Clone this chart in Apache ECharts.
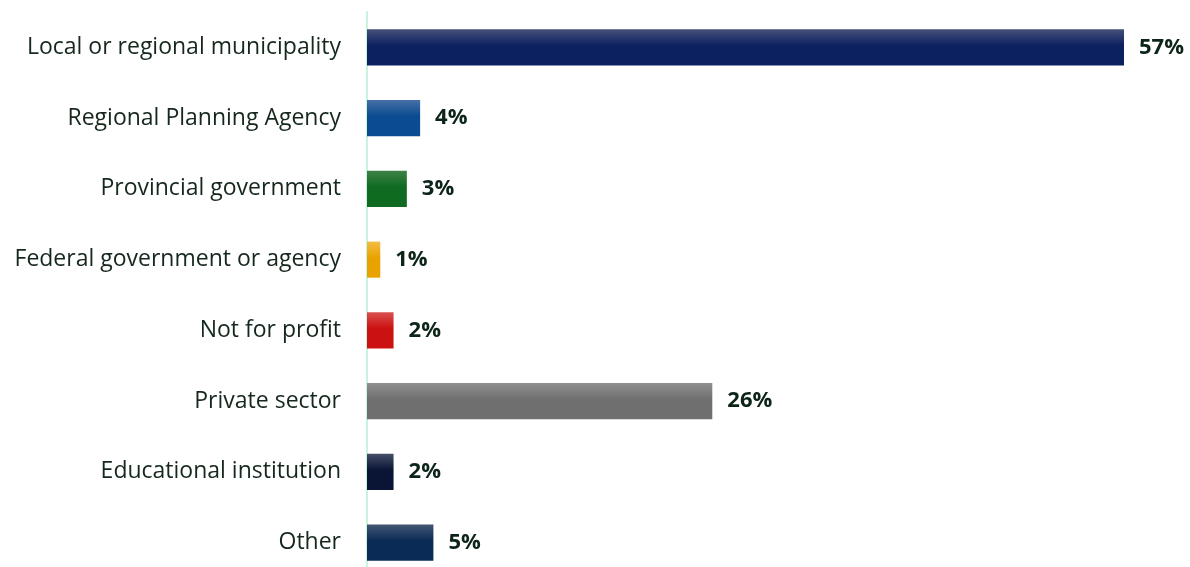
<!DOCTYPE html>
<html>
<head>
<meta charset="utf-8">
<script src="https://cdn.jsdelivr.net/npm/echarts@6/dist/echarts.min.js"></script>
<style>
  html, body { margin: 0; padding: 0; background: #ffffff; overflow: hidden; }
  #chart { width: 1190px; height: 580px; }
</style>
</head>
<body>
<div id="chart"></div>
<script>
// Respondent employer sectors, share of respondents (%)
const categories = [
  'Local or regional municipality',
  'Regional Planning Agency',
  'Provincial government',
  'Federal government or agency',
  'Not for profit',
  'Private sector',
  'Educational institution',
  'Other'
];
const values = [57, 4, 3, 1, 2, 26, 2, 5];

// Per-bar gradient colours: [top, bottom]
const barColors = [
  ['#45507a', '#0c2160'],
  ['#4670a6', '#0b4b91'],
  ['#3f8147', '#0e6b20'],
  ['#f3bd45', '#e9a300'],
  ['#da5050', '#cc1111'],
  ['#909090', '#6f6f6f'],
  ['#474f68', '#0a1535'],
  ['#435673', '#0b2b57']
];

const chart = echarts.init(document.getElementById('chart'));

const data = values.map((v, i) => ({
  value: v,
  itemStyle: {
    color: new echarts.graphic.LinearGradient(0, 0, 0, 1, [
      { offset: 0, color: barColors[i][0] },
      { offset: 0.45, color: barColors[i][1] },
      { offset: 1, color: barColors[i][1] }
    ])
  }
}));

chart.setOption({
  animation: false,
  grid: { left: 367, width: 757, top: 12, height: 566, containLabel: false },
  xAxis: {
    type: 'value',
    min: 0,
    max: 57,
    show: false
  },
  yAxis: {
    type: 'category',
    data: categories,
    inverse: true,
    axisLine: { show: true, lineStyle: { color: '#c6f5df', width: 2 } },
    axisTick: { show: false },
    axisLabel: {
      margin: 26,
      fontFamily: 'Open Sans',
      fontSize: 23,
      color: '#16281d'
    }
  },
  series: [{
    type: 'bar',
    data: data,
    barCategoryGap: '49%',
    label: {
      show: true,
      position: 'right',
      distance: 15,
      formatter: '{c}%',
      fontFamily: 'Open Sans',
      fontWeight: 'bold',
      fontSize: 22,
      color: '#0d2418'
    }
  }]
});
</script>
</body>
</html>
